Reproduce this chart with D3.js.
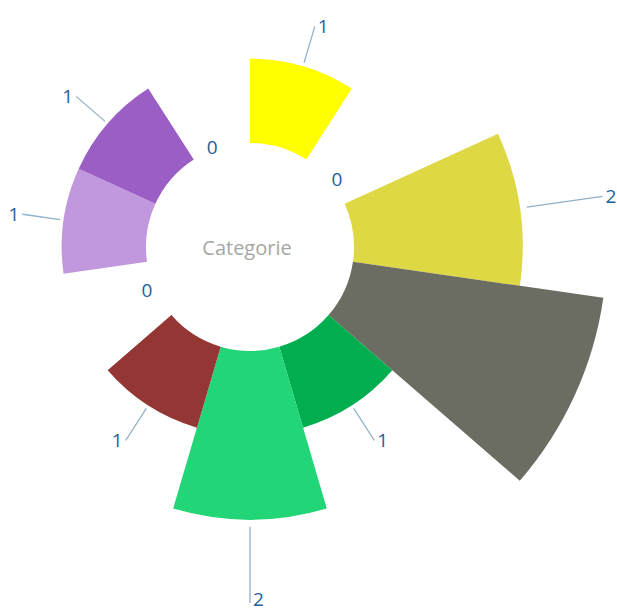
<!DOCTYPE html>
<html>
<head>
<meta charset="utf-8">
<script src="https://cdn.jsdelivr.net/npm/d3@7/dist/d3.min.js"></script>
<style>
  html, body { margin: 0; padding: 0; background: #ffffff; overflow: hidden; }
  svg { display: block; }
</style>
</head>
<body>
<svg id="chart" width="617" height="612"></svg>
<script>
// Category segments, clockwise from the top
const categories = ["Cat 1", "Cat 2", "Cat 3", "Cat 4", "Cat 5", "Cat 6",
                    "Cat 7", "Cat 8", "Cat 9", "Cat 10", "Cat 11"];
const values = [1, 0, 2, 3, 1, 2, 1, 0, 1, 1, 0];
const colors = ["#ffff00", "#ded845", "#ded845", "#6c6d62", "#00ae4f", "#22d677",
                "#943634", "#c198de", "#c198de", "#9b5ec5", "#9b5ec5"];
const centerTitle = "Categorie";

const width = 617, height = 612;
const cx = 250, cy = 247;
const innerR = 104, outerR = 357;

const svg = d3.select("#chart");
const g = svg.append("g").attr("transform", `translate(${cx},${cy})`);

// Equal angle per category (rose / area style), value drives the radius
const angle = d3.scaleBand().domain(categories).range([0, 2 * Math.PI]).padding(0);
const radius = d3.scaleLinear().domain([0, d3.max(values)]).range([innerR, outerR]);
// Radius at which each value label sits
const labelRadius = d3.scaleLinear().domain([0, 1]).range([innerR, innerR + 126]);

const data = categories.map((c, i) => ({ cat: c, value: values[i], color: colors[i] }));

const arc = d3.arc()
  .innerRadius(innerR)
  .outerRadius(d => radius(d.value))
  .startAngle(d => angle(d.cat))
  .endAngle(d => angle(d.cat) + angle.bandwidth());

g.selectAll("path.slice")
  .data(data.filter(d => d.value > 0))
  .join("path")
  .attr("class", "slice")
  .attr("d", arc)
  .attr("fill", d => d.color);

// Value labels with radial leader lines
const mid = d => angle(d.cat) + angle.bandwidth() / 2;
const pt = (a, r) => [Math.sin(a) * r, -Math.cos(a) * r];
const inView = ([x, y]) => x + cx >= 0 && x + cx <= width && y + cy >= 0 && y + cy <= height;

const labelled = data.filter(d => inView(pt(mid(d), labelRadius(d.value))));

g.selectAll("line.leader")
  .data(labelled.filter(d => d.value > 0))
  .join("line")
  .attr("class", "leader")
  .attr("x1", d => pt(mid(d), radius(d.value) + 3.5 * d.value)[0])
  .attr("y1", d => pt(mid(d), radius(d.value) + 3.5 * d.value)[1])
  .attr("x2", d => pt(mid(d), labelRadius(d.value))[0])
  .attr("y2", d => pt(mid(d), labelRadius(d.value))[1])
  .attr("stroke", "#8fb1cb")
  .attr("stroke-width", 1.3);

// Keep label text inside the drawing area
const maxY = height - cy - 13;

g.selectAll("text.value")
  .data(labelled)
  .join("text")
  .attr("class", "value")
  .attr("x", d => {
    const [x] = pt(mid(d), labelRadius(d.value));
    return Math.sin(mid(d)) >= -1e-6 ? x + 3 : x - 3;
  })
  .attr("y", d => Math.min(pt(mid(d), labelRadius(d.value))[1], maxY))
  .attr("text-anchor", d => Math.sin(mid(d)) >= -1e-6 ? "start" : "end")
  .attr("dominant-baseline", "central")
  .attr("font-family", "'Open Sans', 'Noto Sans', sans-serif")
  .attr("font-size", 19)
  .attr("fill", "#235f9c")
  .text(d => d.value);

// Title in the hollow centre
g.append("text")
  .attr("x", -3)
  .attr("y", 0)
  .attr("text-anchor", "middle")
  .attr("dominant-baseline", "central")
  .attr("font-family", "'Open Sans', 'Noto Sans', sans-serif")
  .attr("font-size", 20)
  .attr("fill", "#a6a6a6")
  .text(centerTitle);
</script>
</body>
</html>
